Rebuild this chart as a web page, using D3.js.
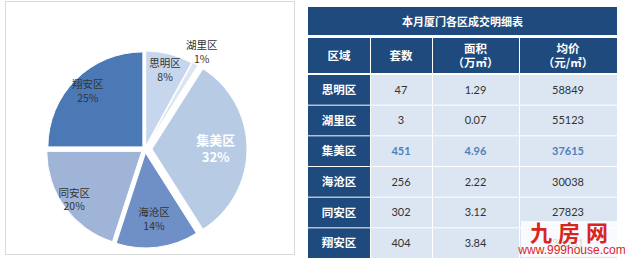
<!DOCTYPE html>
<html>
<head>
<meta charset="utf-8">
<script src="https://cdn.jsdelivr.net/npm/d3@7"></script>
<style>
  body { margin: 0; background: #fff; }
  svg { display: block; }
</style>
</head>
<body>
<svg id="chart"></svg>
<script>
var width = 625;
var height = 267;

// pie data (share of sold area, %)
var districts = ['思明区', '湖里区', '集美区', '海沧区', '同安区', '翔安区'];
var shares = [8, 1, 32, 14, 20, 25];

// table data
var tableTitle = '本月厦门各区成交明细表';
var headers = [['区域'], ['套数'], ['面积', '（万㎡）'], ['均价', '（元/㎡）']];
var rowNames = ['思明区', '湖里区', '集美区', '海沧区', '同安区', '翔安区'];
var units = [47, 3, 451, 256, 302, 404];
var areas = ['1.29', '0.07', '4.96', '2.22', '3.12', '3.84'];
var prices = [58849, 55123, 37615, 30038, 27823, 33581];

var sliceColors = ['#c6d7ed', '#dbe6f3', '#b7cbe4', '#6f90c6', '#9fb4d7', '#4a79b6'];
var explode = [3, 4, 7, 4, 4, 3];
var labelR = [0.82, 1.13, 0.67, 0.71, 0.88, 0.82];
var font = '"Noto Sans CJK SC", "Noto Sans", sans-serif';

const svg = d3.select('#chart')
    .attr('width', width)
    .attr('height', height)
    .attr('font-family', font);

// ---- left panel: pie ----
svg.append('rect')
    .attr('x', 5.5).attr('y', 1.5)
    .attr('width', 289).attr('height', 253)
    .attr('fill', '#fff')
    .attr('stroke', '#d9d9d9');

var cx = 145, cy = 149, r = 95;

var pie = d3.pie().sort(null).value(d => d);
var arcs = pie(shares);
var arc = d3.arc().innerRadius(0).outerRadius(r);

const pieG = svg.append('g').attr('transform', `translate(${cx},${cy})`);

const slice = pieG.selectAll('g.slice')
    .data(arcs)
    .join('g')
    .attr('class', 'slice')
    .attr('transform', (d, i) => {
        var a = (d.startAngle + d.endAngle) / 2;
        return `translate(${Math.sin(a) * explode[i]},${-Math.cos(a) * explode[i]})`;
    });

slice.append('path')
    .attr('d', arc)
    .attr('fill', (d, i) => sliceColors[i])
    .attr('stroke', '#fff')
    .attr('stroke-width', 1);

const lbl = slice.append('text')
    .attr('text-anchor', 'middle')
    .attr('transform', (d, i) => {
        var a = (d.startAngle + d.endAngle) / 2;
        var rr = r * labelR[i];
        return `translate(${Math.sin(a) * rr},${-Math.cos(a) * rr})`;
    })
    .attr('fill', (d, i) => i == 2 ? '#fff' : '#333')
    .attr('font-weight', (d, i) => i == 2 ? 'bold' : 'normal')
    .attr('font-size', (d, i) => i == 2 ? 13 : 10.5);

lbl.append('tspan')
    .attr('x', 0)
    .attr('dy', (d, i) => i == 2 ? '-0.3em' : '-0.35em')
    .text((d, i) => districts[i]);

lbl.append('tspan')
    .attr('x', 0)
    .attr('dy', '1.3em')
    .text(d => d.data + '%');

// ---- right panel: table ----
var navy = '#1f4a7d';
var cellBg = '#dce6f2';
var colW = [62, 62, 87, 98];
var colX = [308];
colW.forEach((w, i) => colX.push(colX[i] + w));
var tableW = colX[4] - colX[0];

var y = d3.scaleBand()
    .domain(rowNames)
    .range([74, 258]);

const table = svg.append('g');

// title
table.append('rect')
    .attr('x', colX[0]).attr('y', 7)
    .attr('width', tableW).attr('height', 28)
    .attr('fill', navy);

table.append('text')
    .attr('x', colX[0] + tableW / 2).attr('y', 22)
    .attr('dy', '0.35em')
    .attr('text-anchor', 'middle')
    .attr('fill', '#fff')
    .attr('font-weight', 'bold')
    .attr('font-size', 11)
    .text(tableTitle);

// header row
const head = table.selectAll('g.head')
    .data(headers)
    .join('g')
    .attr('class', 'head');

head.append('rect')
    .attr('x', (d, i) => colX[i] + (i ? 1 : 0))
    .attr('y', 38)
    .attr('width', (d, i) => colW[i] - (i ? 1 : 0))
    .attr('height', 35)
    .attr('fill', navy);

head.append('text')
    .attr('text-anchor', 'middle')
    .attr('fill', '#fff')
    .attr('font-weight', 'bold')
    .attr('font-size', 11.5)
    .selectAll('tspan')
    .data((d, i) => d.map(t => ({ t: t, i: i, n: d.length })))
    .join('tspan')
    .attr('x', d => colX[d.i] + colW[d.i] / 2)
    .attr('y', (d, k) => d.n == 1 ? 56 : 49 + k * 14)
    .attr('dy', '0.35em')
    .text(d => d.t);

// body rows
const row = table.selectAll('g.row')
    .data(rowNames)
    .join('g')
    .attr('class', 'row')
    .attr('transform', d => `translate(0,${y(d)})`);

row.append('rect')
    .attr('x', colX[0]).attr('y', 1)
    .attr('width', colW[0]).attr('height', y.bandwidth() - 1)
    .attr('fill', navy);

row.append('rect')
    .attr('x', colX[1] + 1).attr('y', 1)
    .attr('width', tableW - colW[0] - 1).attr('height', y.bandwidth() - 1)
    .attr('fill', cellBg);

[1, 2].forEach(c => {
    row.append('line')
        .attr('x1', colX[c + 1] + 0.5).attr('x2', colX[c + 1] + 0.5)
        .attr('y1', 1).attr('y2', y.bandwidth())
        .attr('stroke', '#fff');
});

row.append('text')
    .attr('x', colX[0] + colW[0] / 2)
    .attr('y', y.bandwidth() / 2 + 0.5)
    .attr('dy', '0.35em')
    .attr('text-anchor', 'middle')
    .attr('fill', '#fff')
    .attr('font-weight', 'bold')
    .attr('font-size', 11.5)
    .text(d => d);

var cols = [units, areas, prices];
cols.forEach((vals, c) => {
    row.append('text')
        .attr('x', colX[c + 1] + colW[c + 1] / 2)
        .attr('y', y.bandwidth() / 2 + 0.5)
        .attr('dy', '0.35em')
        .attr('text-anchor', 'middle')
        .attr('font-family', 'Lato, "Noto Sans", sans-serif')
        .attr('font-size', 11)
        .attr('fill', (d, i) => i == 2 ? '#4f7fbd' : '#333')
        .attr('font-weight', (d, i) => i == 2 ? 'bold' : 'normal')
        .text((d, i) => vals[i]);
});

// watermark
const wm = svg.append('g');
wm.append('rect')
    .attr('x', 521).attr('y', 221)
    .attr('width', 103).attr('height', 36)
    .attr('fill', '#fff')
    .attr('opacity', 0.8);
wm.append('text')
    .attr('x', 572).attr('y', 241)
    .attr('text-anchor', 'middle')
    .attr('fill', '#d8261f')
    .attr('font-weight', 'bold')
    .attr('font-size', 22)
    .attr('letter-spacing', 6)
    .text('九房网');
wm.append('text')
    .attr('x', 572).attr('y', 254)
    .attr('text-anchor', 'middle')
    .attr('fill', '#d8261f')
    .attr('font-family', 'Arial, "Liberation Sans", sans-serif')
    .attr('font-size', 12)
    .text('www.999house.com');
</script>
</body>
</html>
